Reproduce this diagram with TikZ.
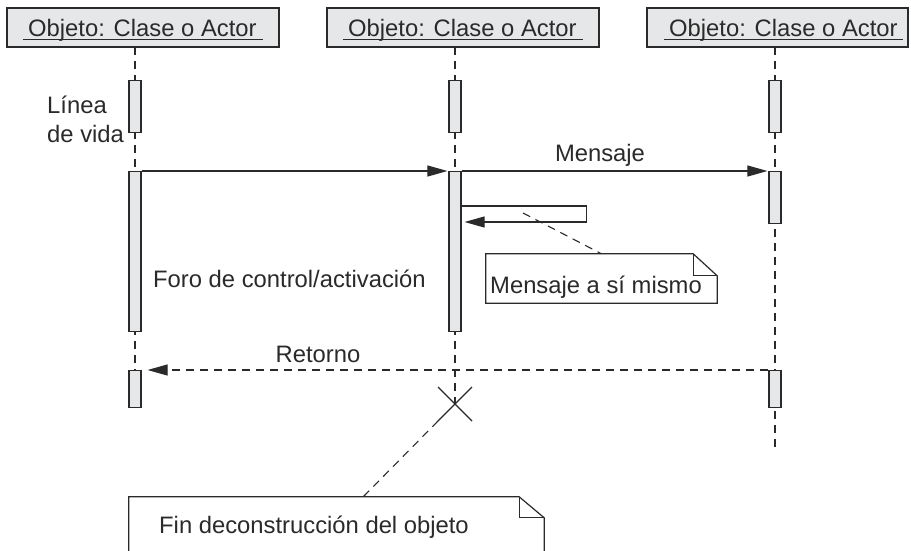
\documentclass[tikz,border=0pt]{standalone}
\usepackage{fontspec}
\setmainfont{Liberation Sans}
\usetikzlibrary{arrows.meta,calc}
\definecolor{ink}{HTML}{2A2A2A}
\definecolor{boxgray}{HTML}{E6E7E8}
\tikzset{
  hdr/.style={draw=ink, fill=boxgray, line width=1.3pt, minimum width=#1, minimum height=39pt, inner sep=0pt},
  lbl/.style={text=ink, font=\fontsize{23.8}{28}\selectfont, inner sep=0pt},
  act/.style={draw=ink, fill=boxgray, line width=1.2pt, minimum width=12pt, minimum height=#1, inner sep=0pt, anchor=north},
  life/.style={draw=ink, line width=1.1pt, dash pattern=on 8pt off 6pt},
  msg/.style={draw=ink, line width=1.1pt, -{Triangle[length=20pt,width=11pt]}},
  ret/.style={draw=ink, line width=1.1pt, dash pattern=on 8pt off 6pt, -{Triangle[length=20pt,width=11pt]}},
  notebox/.style={minimum width=#1, inner sep=0pt},
  noteline/.style={draw=ink, line width=1.2pt},
  uline/.style={draw=ink, line width=1.2pt},
}
\begin{document}
\begin{tikzpicture}[x=1pt,y=-1pt]
\clip (0,0) rectangle (911,550);
\fill[white] (0,0) rectangle (911,550);

% header boxes
\node[hdr=272pt] (h1) at (143,27.5) {};
\node[hdr=272pt] (h2) at (463,27.5) {};
\node[hdr=261pt] (h3) at (777.5,27.5) {};
\node[lbl, anchor=base west] (t1) at (28,36) {Objeto: Clase o Actor};
\node[lbl, anchor=base west] (t2) at (348,36) {Objeto: Clase o Actor};
\node[lbl, anchor=base west] (t3) at (669,36) {Objeto: Clase o Actor};
\draw[uline] (23,39.5) -- (263,39.5);
\draw[uline] (343,39.5) -- (583,39.5);
\draw[uline] (664,39.5) -- (903,39.5);

% lifeline end points
\coordinate (l1top) at (135,47);
\coordinate (l2top) at (455,47);
\coordinate (l3top) at (775,47);
\coordinate (l1end) at (135,370);
\coordinate (xc) at (455,404);
\coordinate (l3end) at (775,447);

\draw[life] (l1top) -- (l1end);
\draw[life] (l2top) -- (xc);
\draw[life] (l3top) -- (l3end);

% activation boxes
\node[act=52pt] (a1) at (135,80) {};
\node[act=160pt] (b1) at (135,171) {};
\node[act=37pt] (c1) at (135,370) {};
\node[act=52pt] (a2) at (455,80) {};
\node[act=160pt] (b2) at (455,171) {};
\node[act=52pt] (a3) at (775,80) {};
\node[act=52pt] (b3) at (775,171) {};
\node[act=37pt] (c3) at (775,370) {};

% messages
\draw[msg, shorten >=1pt] (b1.north east) -- (b2.north west);
\draw[msg, shorten >=1pt] (b2.north east) -- (b3.north west);
\node[lbl, anchor=base] (mlab) at (600,161) {Mensaje};

% self message
\draw[msg, shorten >=3pt] ([yshift=-35pt]b2.north east) -- ++(125,0) -- ++(0,16) -- ([yshift=-51pt]b2.north east);

% note: mensaje a si mismo
\node[notebox=231pt, minimum height=49pt] (n1) at (601.5,278.5) {};
\draw[noteline] (n1.south west) -- (n1.north west) -- ([xshift=-24pt]n1.north east) -- ([yshift=-22pt]n1.north east) -- (n1.south east) -- cycle;
\draw[noteline] ([xshift=-24pt]n1.north east) |- ([yshift=-22pt]n1.north east);
\node[lbl, anchor=base west] (n1t) at (490,293) {Mensaje a sí mismo};
\coordinate (s1) at (523,213);
\draw[life] (s1) -- (n1.north);

% labels
\node[lbl, anchor=base west] (ll1) at (47,113) {Línea};
\node[lbl, anchor=base west] (ll2) at (47,142) {de vida};
\node[lbl, anchor=base west] (foro) at (153,287) {Foro de control/activación};

% return
\draw[ret, shorten >=6pt] (c3.north west) -- (c1.north east);
\node[lbl, anchor=base] (rlab) at (318,362) {Retorno};

% destruction cross
\draw[ink, line width=1.1pt] ($(xc)+(-17,-17)$) -- ($(xc)+(17,17)$);
\draw[ink, line width=1.1pt] ($(xc)+(-17,17)$) -- ($(xc)+(17,-17)$);

% bottom note
\node[notebox=415pt, minimum height=80pt] (n2) at (336.5,537) {};
\draw[noteline] (n2.south west) -- (n2.north west) -- ([xshift=-25pt]n2.north east) -- ([yshift=-21pt]n2.north east) -- (n2.south east) -- cycle;
\draw[noteline] ([xshift=-25pt]n2.north east) |- ([yshift=-21pt]n2.north east);
\node[lbl, anchor=base west] (n2t) at (159,533) {Fin deconstrucción del objeto};
\coordinate (xl) at ($(xc)+(-17,17)$);
\coordinate (n2a) at (363,497);
\draw[life] (xl) -- (n2a);
\end{tikzpicture}
\end{document}
